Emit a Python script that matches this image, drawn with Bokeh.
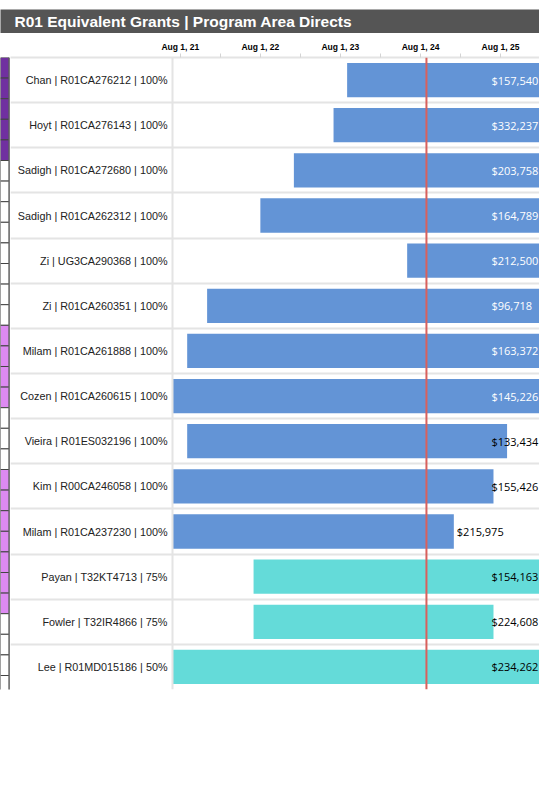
import pandas as pd
from bokeh.plotting import figure
from bokeh.models import ColumnDataSource, FixedTicker, Range1d, Span
from bokeh.layouts import column, row
from bokeh.core.properties import value
from bokeh.embed import file_html
from bokeh.resources import INLINE

# ---------------- data ----------------
title_text = ["R01 Equivalent Grants | Program Area Directs"]
grants = [
    "Chan | R01CA276212 | 100%",
    "Hoyt | R01CA276143 | 100%",
    "Sadigh | R01CA272680 | 100%",
    "Sadigh | R01CA262312 | 100%",
    "Zi | UG3CA290368 | 100%",
    "Zi | R01CA260351 | 100%",
    "Milam | R01CA261888 | 100%",
    "Cozen | R01CA260615 | 100%",
    "Vieira | R01ES032196 | 100%",
    "Kim | R00CA246058 | 100%",
    "Milam | R01CA237230 | 100%",
    "Payan | T32KT4713 | 75%",
    "Fowler | T32IR4866 | 75%",
    "Lee | R01MD015186 | 50%",
]
amounts = [157540, 332237, 203758, 164789, 212500, 96718, 163372,
           145226, 133434, 155426, 215975, 154163, 224608, 234262]
shares = [100, 100, 100, 100, 100, 100, 100, 100, 100, 100, 100, 75, 75, 50]
start_dates = ["2023-09-01", "2023-07-01", "2023-01-01", "2022-08-01",
               "2024-06-01", "2021-12-01", "2021-09-01", "2021-06-01",
               "2021-09-01", "2021-01-01", "2019-12-01", "2022-07-01",
               "2022-07-01", "2020-09-01"]
end_dates = ["2028-08-31", "2028-06-30", "2027-12-31", "2027-07-31",
             "2026-05-31", "2026-11-30", "2026-08-31", "2026-05-31",
             "2025-08-31", "2025-06-30", "2024-12-31", "2027-06-30",
             "2025-06-30", "2026-04-30"]
tick_dates = ["2021-08-01", "2022-08-01", "2023-08-01", "2024-08-01", "2025-08-01"]
tick_labels = ["Aug 1, 21", "Aug 1, 22", "Aug 1, 23", "Aug 1, 24", "Aug 1, 25"]
minor_tick_dates = ["2022-02-01", "2023-02-01", "2024-02-01", "2025-02-01", "2026-02-01"]
today = "2024-08-28"
view_start = "2021-06-26"
view_end = "2026-01-26"
label_cap = "2025-06-07"

# cut-off neighbouring sheet on the left edge (cell states, top to bottom)
strip_states = (["dark"] * 5 + ["none"] * 8 + ["light"] * 4 +
                ["none"] * 3 + ["light"] * 7 + ["none"] * 8)

# ---------------- styling ----------------
BLUE = "#6394d6"
TEAL = "#64dbd9"
RED = "#d9605c"
GRID = "#e4e4e4"
STRIP_COLORS = {"none": "white", "dark": "#7030a0", "light": "#dd8af2"}
PAGE_W = 539
STRIP_W = 10
FIG_W = PAGE_W - STRIP_W
LABEL_COL = 162          # px width of the label column
CHART_W = FIG_W - LABEL_COL
MAIN_H = 755
TOP_B = 24
BOT_B = 99
FRAME_H = MAIN_H - TOP_B - BOT_B


def ms(d):
    return pd.Timestamp(d).value / 1e6


n = len(grants)
ys = [i + 0.5 for i in range(n)]
c0 = ms(view_start)
x1 = ms(view_end)
ms_per_px = (x1 - c0) / CHART_W
x0 = c0 - LABEL_COL * ms_per_px
cap = ms(label_cap)
starts = [max(ms(d), c0) for d in start_dates]
ends = [ms(d) for d in end_dates]
colors = [BLUE if s == 100 else TEAL for s in shares]
lab_x = [min(e, cap) for e in ends]
lab_col = ["white" if (c == BLUE and e > x1) else "black" for c, e in zip(colors, ends)]
lab_txt = [f"${a:,}" for a in amounts]

src = ColumnDataSource(dict(y=ys, start=starts, end=ends, color=colors,
                            lab_x=lab_x, lab_col=lab_col, lab_txt=lab_txt,
                            name=grants, name_x=[c0] * n))

# ---------------- title bar ----------------
t = figure(width=PAGE_W, height=33, x_range=Range1d(0, 1), y_range=Range1d(0, 1),
           output_backend="svg", toolbar_location=None,
           min_border_left=0, min_border_right=0, min_border_top=9, min_border_bottom=0,
           x_axis_location=None, y_axis_location=None)
t.background_fill_color = "#555555"
t.border_fill_color = "white"
t.outline_line_color = None
t.grid.visible = False
t.text(x=[0], y=[0.5], text=title_text, x_offset=14, text_align="left",
       text_baseline="middle", text_color="white", text_font=value("Liberation Sans"),
       text_font_size="15.5px", text_font_style="bold")

# ---------------- left strip (cut-off sheet) ----------------
PITCH = 20.6
s = figure(width=STRIP_W, height=MAIN_H, x_range=Range1d(0, 1),
           y_range=Range1d(FRAME_H / PITCH, 0),
           output_backend="svg", toolbar_location=None,
           min_border_left=0, min_border_right=0, min_border_top=TOP_B, min_border_bottom=BOT_B,
           x_axis_location=None, y_axis_location=None)
s.outline_line_color = None
s.grid.visible = False
s.background_fill_color = "white"
s.border_fill_color = "white"
idx = list(range(len(strip_states)))
s.quad(left=[0] * len(idx), right=[0.85] * len(idx),
       top=idx, bottom=[i + 1 for i in idx],
       fill_color=[STRIP_COLORS[v] for v in strip_states],
       line_color="#444444", line_width=1)
s.add_layout(Span(location=0.92, dimension="height", line_color="#7a7a7a", line_width=2))

# ---------------- main chart ----------------
p = figure(width=FIG_W, height=MAIN_H, x_axis_type="datetime", x_axis_location="above",
           x_range=Range1d(x0, x1), y_range=Range1d(n, 0),
           output_backend="svg", toolbar_location=None,
           min_border_left=0, min_border_right=0, min_border_top=TOP_B, min_border_bottom=BOT_B)
p.outline_line_color = None
p.border_fill_color = "white"
p.xgrid.visible = False
p.yaxis.visible = False
p.ygrid.ticker = FixedTicker(ticks=list(range(n + 1)))
p.ygrid.grid_line_color = GRID
p.ygrid.grid_line_width = 2

xa = p.xaxis[0]
tick_ms = [ms(d) for d in tick_dates]
xa.ticker = FixedTicker(ticks=tick_ms, minor_ticks=[ms(d) for d in minor_tick_dates])
xa.major_label_overrides = {tv: lab for tv, lab in zip(tick_ms, tick_labels)}
xa.major_tick_out = 4
xa.major_tick_in = 0
xa.minor_tick_out = 4
xa.minor_tick_in = 0
xa.major_tick_line_color = "#d4d4d4"
xa.minor_tick_line_color = "#d4d4d4"
xa.axis_line_color = GRID
xa.axis_line_width = 2
xa.major_label_standoff = 2
xa.major_label_text_font = "Liberation Sans"
xa.major_label_text_font_size = "8.5px"
xa.major_label_text_font_style = "bold"
xa.major_label_text_color = "black"

# chart-area divider
p.add_layout(Span(location=c0, dimension="height", line_color=GRID, line_width=2))

p.hbar(y="y", left="start", right="end", height=0.76, fill_color="color",
       line_color=None, source=src)
p.text(x="lab_x", y="y", text="lab_txt", text_color="lab_col", x_offset=3,
       text_align="left", text_baseline="middle", text_font=value("Open Sans"),
       text_font_size="11px", source=src)
p.text(x="name_x", y="y", text="name", text_color="#222222", x_offset=-5,
       text_align="right", text_baseline="middle", text_font=value("Liberation Sans"),
       text_font_size="10.8px", source=src)
p.add_layout(Span(location=ms(today), dimension="height", line_color=RED, line_width=2))

layout = column(t, row(s, p, spacing=0), spacing=0)

open("out.html", "w").write(file_html(layout, INLINE))
